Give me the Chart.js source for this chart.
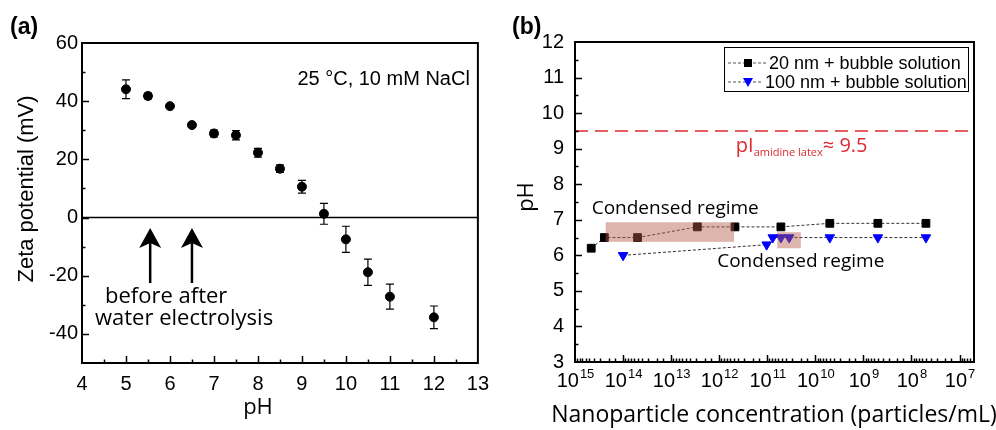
<!DOCTYPE html>
<html>
<head>
<meta charset="utf-8">
<script src="https://cdn.jsdelivr.net/npm/chart.js@4.4.0/dist/chart.umd.min.js"></script>
<style>
html, body { margin: 0; padding: 0; background: #fff; }
#wrap { position: relative; width: 996px; height: 430px; overflow: hidden; }
.panel { position: absolute; top: 0; width: 498px; height: 430px; }
</style>
</head>
<body>
<div id="wrap">
  <div class="panel" style="left:0"><canvas id="chartA" width="498" height="430"></canvas></div>
  <div class="panel" style="left:498px"><canvas id="chartB" width="498" height="430"></canvas></div>
</div>
<script>
// ---- panel (a): zeta potential vs pH ----
const phValues   = [5, 5.5, 6, 6.5, 7, 7.5, 8, 8.5, 9, 9.5, 10, 10.5, 11, 12];
const zetaValues = [44.1, 41.8, 38.3, 31.8, 28.9, 28.3, 22.3, 16.8, 10.6, 1.3, -7.5, -18.8, -27.2, -34.3];
const zetaErrors = [3.2, 1.0, 0.6, 0.8, 1.2, 1.6, 1.5, 1.3, 2.2, 3.6, 4.5, 4.5, 4.3, 3.9];
const arrowsPh   = [5.55, 6.5];   // before / after electrolysis
const arrowTip   = -3.6;
const arrowTail  = -22.5;

// ---- panel (b): pH vs nanoparticle concentration ----
const conc20  = [4.6e14, 2.45e14, 5.0e13, 2.85e12, 4.7e11, 5.2e10, 5e9, 5e8, 5e7];
const ph20    = [6.2, 6.5, 6.5, 6.8, 6.8, 6.8, 6.9, 6.9, 6.9];
const conc100 = [1.0e14, 1.03e11, 7.7e10, 5.2e10, 3.5e10, 5e9, 5e8, 5e7];
const ph100   = [6.0, 6.3, 6.5, 6.5, 6.5, 6.5, 6.5, 6.5];
const seriesNames = ['20 nm + bubble solution', '100 nm + bubble solution'];
const pI_value = 9.5;
// shaded "condensed regime" boxes: [concFrom, concTo, phLow, phHigh]
const regimes = [[2.3e14, 4.9e11, 6.38, 6.93], [6.2e10, 2.0e10, 6.2, 6.65]];

const SANS = "'Liberation Sans', Arial, sans-serif";
const MYRIAD = "'Open Sans', sans-serif";
const RED = '#dc2a30';
Chart.defaults.font.family = SANS;
Chart.defaults.color = '#000';

function decade(v) {
    const e = Math.log10(v);
    return Math.abs(e - Math.round(e)) < 1e-6 ? Math.round(e) : null;
}

// inward tick marks + closed frame
function drawFrame(chart, isMajorX, isMajorY) {
    const {ctx, chartArea: a, scales} = chart;
    ctx.save();
    ctx.strokeStyle = '#000';
    ctx.lineWidth = 1.5;
    scales.x.ticks.forEach(t => {
        const px = Math.round(scales.x.getPixelForValue(t.value)) + 0.5;
        if (px < a.left + 1 || px > a.right - 1) return;
        const len = isMajorX(t.value) ? 7 : 3.5;
        ctx.beginPath(); ctx.moveTo(px, a.bottom); ctx.lineTo(px, a.bottom - len); ctx.stroke();
    });
    scales.y.ticks.forEach(t => {
        const py = Math.round(scales.y.getPixelForValue(t.value)) + 0.5;
        if (py < a.top + 1 || py > a.bottom - 1) return;
        const len = isMajorY(t.value) ? 7 : 3.5;
        ctx.beginPath(); ctx.moveTo(a.left, py); ctx.lineTo(a.left + len, py); ctx.stroke();
    });
    ctx.lineWidth = 2;
    ctx.strokeRect(a.left, a.top, a.right - a.left, a.bottom - a.top);
    ctx.restore();
}

const panelA = {
    id: 'panelA',
    beforeDatasetsDraw(chart) {
        const {ctx, chartArea: a, scales: {x, y}} = chart;
        ctx.save();
        // zero line
        ctx.strokeStyle = '#000';
        ctx.lineWidth = 1.5;
        const y0 = y.getPixelForValue(0);
        ctx.beginPath(); ctx.moveTo(a.left, y0); ctx.lineTo(a.right, y0); ctx.stroke();
        // error bars
        ctx.lineWidth = 1.2;
        for (let i = 0; i < phValues.length; i++) {
            const px = x.getPixelForValue(phValues[i]);
            const top = y.getPixelForValue(zetaValues[i] + zetaErrors[i]);
            const bot = y.getPixelForValue(zetaValues[i] - zetaErrors[i]);
            ctx.beginPath();
            ctx.moveTo(px, top); ctx.lineTo(px, bot);
            ctx.moveTo(px - 4, top); ctx.lineTo(px + 4, top);
            ctx.moveTo(px - 4, bot); ctx.lineTo(px + 4, bot);
            ctx.stroke();
        }
        ctx.restore();
    },
    afterDraw(chart) {
        const {ctx, chartArea: a, scales: {x, y}} = chart;
        drawFrame(chart, v => Number.isInteger(v), v => v % 20 === 0);
        ctx.save();
        // arrows
        ctx.fillStyle = '#000';
        ctx.strokeStyle = '#000';
        arrowsPh.forEach(p => {
            const px = x.getPixelForValue(p);
            const tip = y.getPixelForValue(arrowTip);
            const tail = y.getPixelForValue(arrowTail);
            ctx.lineWidth = 2.5;
            ctx.beginPath(); ctx.moveTo(px, tip + 12); ctx.lineTo(px, tail); ctx.stroke();
            ctx.beginPath();
            ctx.moveTo(px, tip);
            ctx.lineTo(px + 11, tip + 20);
            ctx.lineTo(px, tip + 15);
            ctx.lineTo(px - 11, tip + 20);
            ctx.closePath();
            ctx.fill();
        });
        // texts
        ctx.textBaseline = 'alphabetic';
        ctx.textAlign = 'left';
        ctx.font = '22px ' + MYRIAD;
        ctx.fillText('before after', 105, 303);
        ctx.fillText('water electrolysis', 95, 325);
        ctx.font = '20px ' + SANS;
        ctx.textAlign = 'right';
        ctx.fillText('25 °C, 10 mM NaCl', a.right - 8, a.top + 42);
        // axis titles
        ctx.textAlign = 'center';
        ctx.font = '22px ' + MYRIAD;
        ctx.fillText('pH', 258, 414);
        ctx.save();
        ctx.translate(33, 189);
        ctx.rotate(-Math.PI / 2);
        ctx.font = '22px ' + SANS;
        ctx.fillText('Zeta potential (mV)', 0, 0);
        ctx.restore();
        ctx.textAlign = 'left';
        ctx.font = 'bold 23px ' + SANS;
        ctx.fillText('(a)', 10, 34);
        ctx.restore();
    }
};

new Chart(document.getElementById('chartA'), {
    type: 'scatter',
    data: {
        datasets: [{
            data: phValues.map((v, i) => ({x: v, y: zetaValues[i]})),
            backgroundColor: '#000',
            borderColor: '#000',
            pointRadius: 4.5
        }]
    },
    options: {
        responsive: false,
        animation: false,
        layout: {padding: {top: 43, right: 19, left: 0, bottom: 0}},
        plugins: {legend: {display: false}, tooltip: {enabled: false}},
        scales: {
            x: {
                type: 'linear', min: 4, max: 13,
                grid: {display: false, drawTicks: false},
                border: {display: false},
                ticks: {stepSize: 0.5, autoSkip: false, maxRotation: 0, padding: 9,
                        font: {size: 20}, callback: v => Number.isInteger(v) ? v : ''},
                afterFit: s => { s.height = 67; }
            },
            y: {
                min: -50, max: 60,
                grid: {display: false, drawTicks: false},
                border: {display: false},
                ticks: {stepSize: 10, autoSkip: false, padding: 4,
                        font: {size: 20}, callback: v => v % 20 === 0 ? v : ''},
                afterFit: s => { s.width = 82; }
            }
        }
    },
    plugins: [panelA]
});

const panelB = {
    id: 'panelB',
    beforeDatasetsDraw(chart) {
        const {ctx, chartArea: a, scales: {y}} = chart;
        const py = y.getPixelForValue(pI_value);
        ctx.save();
        ctx.strokeStyle = RED;
        ctx.lineWidth = 1.5;
        ctx.setLineDash([13, 7]);
        ctx.beginPath(); ctx.moveTo(a.left, py); ctx.lineTo(a.right, py); ctx.stroke();
        ctx.restore();
    },
    afterDatasetsDraw(chart) {
        const {ctx, scales: {x, y}} = chart;
        ctx.save();
        ctx.fillStyle = 'rgba(180, 90, 70, 0.45)';
        regimes.forEach(r => {
            const x1 = x.getPixelForValue(r[0]), x2 = x.getPixelForValue(r[1]);
            const y1 = y.getPixelForValue(r[3]), y2 = y.getPixelForValue(r[2]);
            ctx.fillRect(x1, y1, x2 - x1, y2 - y1);
        });
        ctx.restore();
    },
    afterDraw(chart) {
        const {ctx, chartArea: a, scales: {x, y}} = chart;
        drawFrame(chart, v => decade(v) !== null, v => Number.isInteger(v));
        ctx.save();
        // decade tick labels with raised exponent
        ctx.fillStyle = '#000';
        ctx.textBaseline = 'alphabetic';
        ctx.textAlign = 'left';
        x.ticks.forEach(t => {
            const e = decade(t.value);
            if (e === null) return;
            const px = x.getPixelForValue(t.value);
            ctx.font = '20px ' + SANS;
            const wBase = ctx.measureText('10').width;
            ctx.font = '13px ' + SANS;
            const wExp = ctx.measureText(String(e)).width;
            const left = px - (wBase + wExp) / 2;
            ctx.font = '20px ' + SANS;
            ctx.fillText('10', left, a.bottom + 25);
            ctx.font = '13px ' + SANS;
            ctx.fillText(String(e), left + wBase + 1, a.bottom + 16);
        });
        // annotations
        ctx.fillStyle = '#000';
        ctx.font = '19px ' + MYRIAD;
        ctx.fillText('Condensed regime', x.getPixelForValue(4.5e14), y.getPixelForValue(7.16));
        ctx.fillText('Condensed regime', x.getPixelForValue(1.1e12), y.getPixelForValue(5.66));
        // pI label with subscript
        ctx.fillStyle = RED;
        let tx = x.getPixelForValue(4.5e11);
        const ty = y.getPixelForValue(pI_value) + 21;
        ctx.font = '20px ' + MYRIAD;
        ctx.fillText('pI', tx, ty);
        tx += ctx.measureText('pI').width;
        ctx.font = '11px ' + MYRIAD;
        ctx.fillText('amidine latex', tx, ty + 4);
        tx += ctx.measureText('amidine latex').width;
        ctx.font = '20px ' + MYRIAD;
        ctx.fillText('≈ 9.5', tx, ty);
        // legend
        const L = a.right - 250, T = a.top + 5;
        ctx.strokeStyle = '#000';
        ctx.lineWidth = 1;
        ctx.strokeRect(L + 0.5, T + 0.5, 244, 44);
        const rows = [{dy: 16, text: L + 45, color: '#000', style: 'rect'},
                      {dy: 35, text: L + 41, color: '#0000ff', style: 'tri'}];
        rows.forEach((r, i) => {
            const ly = T + r.dy;
            ctx.strokeStyle = '#555';
            ctx.setLineDash([3, 2]);
            ctx.beginPath(); ctx.moveTo(L + 4, ly); ctx.lineTo(r.text - 3, ly); ctx.stroke();
            ctx.setLineDash([]);
            ctx.fillStyle = r.color;
            const mx = L + 24;
            if (r.style === 'rect') {
                ctx.fillRect(mx - 4, ly - 4, 8, 8);
            } else {
                ctx.beginPath();
                ctx.moveTo(mx - 5, ly - 4); ctx.lineTo(mx + 5, ly - 4); ctx.lineTo(mx, ly + 5);
                ctx.closePath(); ctx.fill();
            }
            ctx.fillStyle = '#000';
            ctx.font = '18px ' + SANS;
            ctx.textBaseline = 'middle';
            ctx.fillText(seriesNames[i], r.text, ly + 1);
        });
        // axis titles
        ctx.textBaseline = 'alphabetic';
        ctx.textAlign = 'center';
        ctx.font = '23px ' + MYRIAD;
        ctx.fillText('Nanoparticle concentration (particles/mL)', 276, 422);
        ctx.save();
        ctx.translate(35, 197);
        ctx.rotate(-Math.PI / 2);
        ctx.font = '22px ' + MYRIAD;
        ctx.fillText('pH', 0, 0);
        ctx.restore();
        ctx.textAlign = 'left';
        ctx.font = 'bold 23px ' + SANS;
        ctx.fillText('(b)', 14, 34);
        ctx.restore();
    }
};

new Chart(document.getElementById('chartB'), {
    type: 'line',
    data: {
        datasets: [{
            label: seriesNames[0],
            data: conc20.map((c, i) => ({x: c, y: ph20[i]})),
            borderColor: '#333',
            borderWidth: 1,
            borderDash: [3, 2],
            backgroundColor: '#000',
            pointBackgroundColor: '#000',
            pointBorderColor: '#000',
            pointStyle: 'rect',
            pointRadius: 5.5,
            tension: 0
        }, {
            label: seriesNames[1],
            data: conc100.map((c, i) => ({x: c, y: ph100[i]})),
            borderColor: '#333',
            borderWidth: 1,
            borderDash: [3, 2],
            backgroundColor: '#0000ff',
            pointBackgroundColor: '#0000ff',
            pointBorderColor: '#0000ff',
            pointStyle: 'triangle',
            pointRotation: 180,
            pointRadius: 5.5,
            tension: 0
        }]
    },
    options: {
        responsive: false,
        animation: false,
        layout: {padding: {top: 42, right: 22, left: 0, bottom: 0}},
        plugins: {legend: {display: false}, tooltip: {enabled: false}},
        scales: {
            x: {
                type: 'logarithmic', reverse: true, min: 5e6, max: 1e15,
                grid: {display: false, drawTicks: false},
                border: {display: false},
                ticks: {display: false, autoSkip: false},
                afterFit: s => { s.height = 68; }
            },
            y: {
                min: 3, max: 12,
                grid: {display: false, drawTicks: false},
                border: {display: false},
                ticks: {stepSize: 0.5, autoSkip: false, padding: 11,
                        font: {size: 20}, callback: v => Number.isInteger(v) ? v : ''},
                afterFit: s => { s.width = 77; }
            }
        }
    },
    plugins: [panelB]
});
</script>
</body>
</html>
